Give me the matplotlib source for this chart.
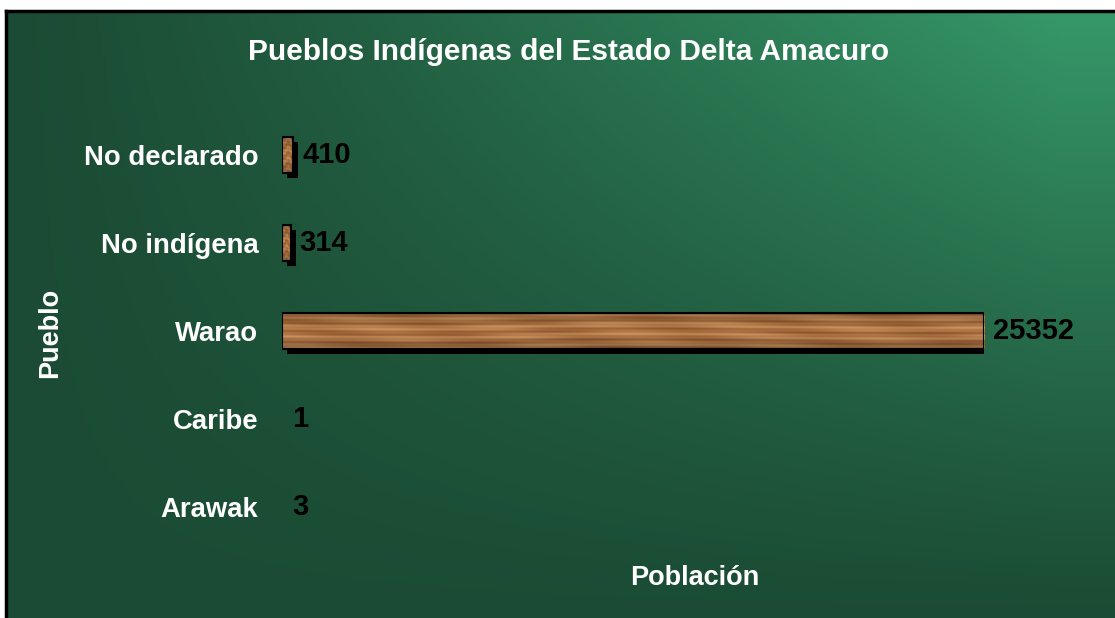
'''
pueblos indigenas - delta amacuro
horizontal bars with wood look on a green gradient
'''
import numpy as np
import matplotlib
matplotlib.use('Agg')
import matplotlib.pyplot as plt
from matplotlib.patches import Rectangle
from matplotlib.transforms import ScaledTranslation

# data ----------------------------------------------------
pueblos = ['Arawak', 'Caribe', 'Warao', 'No indígena', 'No declarado']
poblacion = [3, 1, 25352, 314, 410]

title = 'Pueblos Indígenas del Estado Delta Amacuro'
xlabel = 'Población'
ylabel = 'Pueblo'

# figure --------------------------------------------------
W, H = 1115, 618
plt.rcParams['font.family'] = ['Liberation Sans', 'DejaVu Sans']
fig = plt.figure(figsize=(W / 100, H / 100), dpi=100)
fig.patch.set_facecolor('white')

# green background gradient
bg = fig.add_axes([6 / W, 0, 1 - 6 / W, (H - 11) / H])
bg.set_xlim(0, 1)
bg.set_ylim(0, 1)
gx, gy = np.meshgrid(np.linspace(0, 1, 300), np.linspace(0, 1, 200))
f = np.clip(gx * 1.05, 0, 1) ** 1.2 * gy ** 1.1
dark = np.array([0x1b, 0x4b, 0x34]) / 255
light = np.array([0x36, 0x98, 0x69]) / 255
img = dark[None, None, :] * (1 - f[..., None]) + light[None, None, :] * f[..., None]
bg.imshow(img, extent=(0, 1, 0, 1), origin='lower', aspect='auto')
for side, s in bg.spines.items():
    s.set_linewidth(2.5)
    s.set_color('black')
    if side in ('right', 'bottom'):
        s.set_visible(False)
bg.set_xticks([])
bg.set_yticks([])

# main axes -----------------------------------------------
ax = fig.add_axes([282 / W, 67 / H, 702 / W, 440 / H])
ax.set_xlim(0, max(poblacion))
ax.set_ylim(-0.5, len(pueblos) - 0.5)
ax.patch.set_alpha(0)
for s in ax.spines.values():
    s.set_visible(False)
ax.set_xticks([])
ax.set_yticks(range(len(pueblos)))
ax.set_yticklabels(pueblos, fontsize=19.8, fontweight='bold', color='white')
ax.tick_params(axis='y', length=0, pad=17)

# wood texture (deterministic grain)
tx, ty = np.meshgrid(np.linspace(0, 1, 600), np.linspace(0, 1, 40))
grain = (0.5 + 0.25 * np.sin(ty * 23 + np.sin(tx * 9) * 1.5)
         + 0.15 * np.sin(ty * 61 + tx * 4) + 0.1 * np.sin(tx * 37 + ty * 5))
grain = np.clip(grain, 0, 1)
w_dark = np.array([0x8a, 0x52, 0x28]) / 255
w_light = np.array([0xd0, 0x98, 0x62]) / 255
wood = w_dark[None, None, :] * (1 - grain[..., None]) + w_light[None, None, :] * grain[..., None]
edge_dark = np.linspace(0, 1, 40)
wood = wood * (0.75 + 0.25 * np.sin(np.pi * edge_dark))[:, None, None]

bh = 0.41
shadow_tr = ax.transData + ScaledTranslation(5 / 100, -5 / 100, fig.dpi_scale_trans)
for i, v in enumerate(poblacion):
    if v < 50:
        ax.text(0, i, str(v), va='center', ha='left', fontsize=21,
                fontweight='bold', color='black', transform=ax.transData
                + ScaledTranslation(10 / 100, 0, fig.dpi_scale_trans))
        continue
    ax.add_patch(Rectangle((0, i - bh / 2), v, bh, facecolor='black',
                           edgecolor='none', transform=shadow_tr, zorder=1))
    rect = Rectangle((0, i - bh / 2), v, bh, facecolor='none',
                     edgecolor='black', linewidth=1.5, zorder=3)
    ax.add_patch(rect)
    im = ax.imshow(wood, extent=(0, v, i - bh / 2, i + bh / 2), aspect='auto',
                   origin='lower', zorder=2)
    im.set_clip_path(rect)
    ax.text(v, i, str(v), va='center', ha='left', fontsize=21,
            fontweight='bold', color='black', clip_on=False,
            transform=ax.transData + ScaledTranslation(9 / 100, 0, fig.dpi_scale_trans))
ax.set_xlim(0, max(poblacion))
ax.set_ylim(-0.5, len(pueblos) - 0.5)

# titles --------------------------------------------------
fig.text(569 / W, 1 - 52 / H, title, ha='center', va='center',
         fontsize=21.5, fontweight='bold', color='white')
fig.text(695 / W, 1 - 578 / H, xlabel, ha='center', va='center',
         fontsize=19.5, fontweight='bold', color='white')
fig.text(50 / W, 1 - 333 / H, ylabel, ha='center', va='center', rotation=90,
         fontsize=19.5, fontweight='bold', color='white')

fig.savefig('out.png', dpi=100)
